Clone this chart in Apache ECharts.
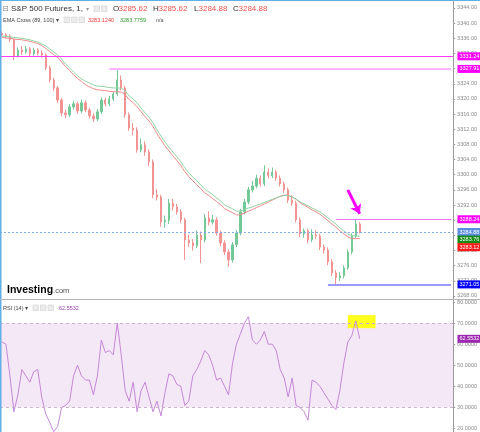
<!DOCTYPE html>
<html>
<head>
<meta charset="utf-8">
<script src="https://cdn.jsdelivr.net/npm/echarts@6/dist/echarts.min.js"></script>
<style>
  html, body { margin: 0; padding: 0; background: #fff; }
  #main { width: 480px; height: 432px; }
</style>
</head>
<body>
<div id="main"></div>
<script>
// S&P 500 Futures 1 min
const opens = [3337.3, 3336.9, 3336.6, 3335.6, 3331.3, 3332.9, 3332.4, 3333.2, 3331.9, 3332.9,
  3332.1, 3331.6, 3328.2, 3325.0, 3322.9, 3319.7, 3316.3, 3315.8, 3317.9, 3318.7,
  3316.8, 3319.0, 3317.1, 3315.5, 3314.7, 3316.6, 3319.7, 3318.7, 3320.0, 3321.3,
  3325.0, 3322.9, 3315.8, 3312.3, 3311.8, 3306.5, 3307.9, 3306.0, 3303.4, 3294.7,
  3294.1, 3287.5, 3288.0, 3292.5, 3291.5, 3290.2, 3288.1, 3282.8, 3282.0, 3281.2,
  3284.1, 3282.8, 3288.6, 3287.5, 3288.1, 3284.6, 3282.0, 3279.6, 3277.5, 3281.5,
  3284.6, 3290.2, 3292.8, 3296.0, 3297.0, 3299.1, 3297.6, 3300.7, 3299.7, 3300.7,
  3299.1, 3297.6, 3296.0, 3293.3, 3292.5, 3288.1, 3284.4, 3285.2, 3282.8, 3284.1,
  3283.8, 3280.9, 3280.1, 3277.0, 3274.1, 3272.8, 3273.3, 3275.4, 3279.6, 3283.8,
  3287.0]
const closes = [3336.9, 3336.6, 3335.6, 3331.3, 3332.9, 3332.4, 3333.2, 3331.9, 3332.9, 3332.1,
  3331.6, 3328.2, 3325.0, 3322.9, 3319.7, 3316.3, 3315.8, 3317.9, 3318.7, 3316.8,
  3319.0, 3317.1, 3315.5, 3314.7, 3316.6, 3319.7, 3318.7, 3320.0, 3321.3, 3325.0,
  3322.9, 3315.8, 3312.3, 3311.8, 3306.5, 3307.9, 3306.0, 3303.4, 3294.7, 3294.1,
  3287.5, 3288.0, 3292.5, 3291.5, 3290.2, 3288.1, 3282.8, 3282.0, 3281.2, 3284.1,
  3282.8, 3288.6, 3287.5, 3288.1, 3284.6, 3282.0, 3279.6, 3277.5, 3281.5, 3284.6,
  3290.2, 3292.8, 3296.0, 3297.0, 3299.1, 3297.6, 3300.7, 3299.7, 3300.7, 3299.1,
  3297.6, 3296.0, 3293.3, 3292.5, 3288.1, 3284.4, 3285.2, 3282.8, 3284.1, 3283.8,
  3280.9, 3280.1, 3277.0, 3274.1, 3272.8, 3273.3, 3275.4, 3279.6, 3283.8, 3287.0,
  3284.88]
const highs = [3337.8, 3337.3, 3337.0, 3335.9, 3333.6, 3333.9, 3334.0, 3333.7, 3333.5, 3333.4,
  3332.8, 3332.0, 3328.8, 3325.6, 3323.4, 3320.3, 3317.2, 3318.6, 3319.5, 3319.3,
  3319.8, 3319.6, 3317.7, 3316.2, 3317.3, 3320.4, 3320.3, 3320.8, 3322.0, 3327.91,
  3326.2, 3323.5, 3316.4, 3313.6, 3312.5, 3309.6, 3308.8, 3306.7, 3304.0, 3296.2,
  3294.7, 3289.2, 3293.6, 3293.7, 3292.3, 3290.9, 3288.7, 3284.2, 3283.0, 3285.3,
  3285.0, 3289.6, 3290.3, 3289.4, 3288.8, 3285.3, 3282.7, 3280.3, 3282.2, 3285.4,
  3291.0, 3293.6, 3296.8, 3298.4, 3300.0, 3299.8, 3302.5, 3301.6, 3301.9, 3301.3,
  3299.8, 3298.2, 3296.6, 3294.6, 3293.1, 3288.7, 3285.8, 3285.8, 3285.6, 3285.4,
  3284.4, 3281.6, 3280.8, 3277.7, 3274.8, 3274.3, 3276.1, 3280.3, 3284.5, 3288.24,
  3287.5]
const lows = [3336.4, 3336.0, 3335.0, 3330.3, 3330.9, 3331.6, 3331.9, 3331.2, 3331.4, 3331.5,
  3330.9, 3327.6, 3324.3, 3322.1, 3318.9, 3315.4, 3314.9, 3315.2, 3317.2, 3316.1,
  3316.3, 3316.5, 3314.8, 3313.9, 3314.2, 3316.0, 3318.0, 3318.1, 3319.4, 3320.8,
  3322.2, 3315.0, 3311.6, 3310.4, 3305.8, 3305.9, 3305.0, 3302.2, 3293.8, 3293.2,
  3286.3, 3286.0, 3287.0, 3290.6, 3289.5, 3287.2, 3277.5, 3280.9, 3280.0, 3280.6,
  3276.7, 3282.1, 3286.6, 3286.9, 3283.9, 3281.1, 3278.8, 3275.7, 3276.8, 3280.9,
  3284.0, 3289.5, 3292.2, 3295.3, 3296.4, 3296.9, 3297.0, 3299.0, 3299.1, 3298.4,
  3296.9, 3295.2, 3292.5, 3291.8, 3287.4, 3283.5, 3283.4, 3281.9, 3282.2, 3283.0,
  3280.1, 3279.2, 3276.1, 3273.3, 3271.05, 3272.0, 3272.6, 3274.9, 3279.0, 3283.2,
  3284.5]
const ema89 = [3336.2, 3336.1, 3336.0, 3335.8, 3335.7, 3335.6, 3335.4, 3335.2, 3334.9, 3334.6,
  3334.1, 3333.3, 3332.5, 3331.7, 3330.9, 3329.8, 3328.5, 3327.5, 3326.4, 3325.4,
  3324.6, 3323.7, 3323.2, 3322.7, 3322.4, 3322.3, 3322.2, 3322.0, 3321.9, 3321.9,
  3321.8, 3321.1, 3319.8, 3319.0, 3317.9, 3316.6, 3315.3, 3314.2, 3312.7, 3310.8,
  3309.2, 3307.6, 3306.3, 3305.0, 3303.7, 3302.4, 3300.8, 3299.5, 3298.4, 3297.4,
  3296.3, 3295.2, 3294.5, 3293.7, 3292.9, 3292.1, 3291.0, 3290.5, 3290.0, 3289.4,
  3289.4, 3289.9, 3290.4, 3290.8, 3291.3, 3291.8, 3292.3, 3292.8, 3293.3, 3293.8,
  3294.3, 3294.6, 3294.6, 3294.1, 3293.5, 3292.6, 3292.0, 3291.4, 3290.7, 3290.2,
  3289.6, 3288.7, 3287.9, 3287.0, 3286.2, 3285.2, 3284.4, 3283.6, 3283.15, 3283.15,
  3283.12]
const ema100 = [3336.6, 3336.5, 3336.4, 3336.2, 3336.1, 3336.0, 3335.8, 3335.6, 3335.3, 3335.0,
  3334.5, 3334.0, 3333.2, 3332.4, 3331.6, 3330.5, 3329.2, 3328.2, 3327.1, 3326.1,
  3325.3, 3324.7, 3324.2, 3323.7, 3323.4, 3323.3, 3323.2, 3323.0, 3322.9, 3322.9,
  3322.8, 3322.1, 3320.8, 3320.0, 3318.9, 3317.6, 3316.3, 3315.2, 3313.7, 3311.8,
  3310.2, 3308.6, 3307.3, 3306.0, 3304.7, 3303.4, 3301.8, 3300.5, 3299.4, 3298.4,
  3297.3, 3296.2, 3295.5, 3294.7, 3293.9, 3293.1, 3292.0, 3291.5, 3291.0, 3290.4,
  3290.4, 3290.8, 3291.2, 3291.5, 3291.9, 3292.3, 3292.7, 3293.1, 3293.5, 3293.9,
  3294.3, 3294.5, 3294.5, 3294.1, 3293.6, 3292.8, 3292.3, 3291.8, 3291.2, 3290.7,
  3290.2, 3289.4, 3288.6, 3287.8, 3287.0, 3286.0, 3285.2, 3284.4, 3283.9, 3283.85,
  3283.78]
const rsi14 = [61, 60, 45, 28, 36, 48, 45, 42, 47, 48,
  35, 27, 23, 18.5, 21, 30, 31, 33, 45, 50,
  45, 43, 43, 36, 45, 62, 56, 57, 55, 70,
  55, 38, 33, 42, 28, 38, 42, 35, 28, 33,
  26, 37, 46, 45, 41, 40, 31, 33, 45, 48,
  52, 57, 55, 50, 43, 44, 40, 36, 51, 60,
  65, 70, 73, 62, 60, 62, 66, 60, 60, 57,
  48, 44, 35, 44, 31, 30, 28, 24, 43, 42,
  40, 37, 34, 31, 29, 38, 51, 61, 64, 71,
  62.5532]

const priceTicks = [3268, 3272, 3276, 3280, 3284, 3288, 3292, 3296, 3300, 3304,
  3308, 3312, 3316, 3320, 3324, 3328, 3332, 3336, 3340, 3344]
const rsiTicks = [20, 30, 40, 50, 60, 70, 80]

// horizontal levels drawn on the chart: [start slot, value]
const levelTop = 3331.24
const levelPeak = [27, 3327.91]
const levelHigh = [84, 3288.24]
const levelLast = 3284.88
const levelLow = [82, 3271.05]
const arrowFrom = [87, 3296.0]
const arrowTo = [90, 3289.7]
const rsiBand = [30, 70]
const highlightFrom = [87, 73.8]
const highlightTo = [94, 67.6]

// tags on the price scale
const priceTagValues = [3331.24, 3327.91, 3288.24, 3284.88, 3283.76, 3283.12, 3271.05]
const priceTagColors = ['#ff00ff', '#ff00ff', '#ff00ff', '#5b8ee0', '#138a13', '#ff1a1a', '#0000ff']
const rsiTagValue = 62.5532

const slotCount = 114
const categories = Array.from({ length: slotCount }, (_, i) => String(i))
const lastSlot = slotCount - 1

const FONT = 'Liberation Sans, Arial, sans-serif'
const chart = echarts.init(document.getElementById('main'))

const option = {
  animation: false,
  backgroundColor: '#fff',
  grid: [
    { left: 0, right: 23, top: 0, height: 299 },
    { left: 0, right: 23, top: 300, bottom: 0 },
  ],
  xAxis: [
    { gridIndex: 0, type: 'category', data: categories, show: false },
    { gridIndex: 1, type: 'category', data: categories, show: false },
  ],
  yAxis: [
    {
      gridIndex: 0,
      position: 'right',
      min: 3267.2,
      max: 3346.1,
      splitLine: { show: false },
      axisLine: { show: true, lineStyle: { color: '#9a9a9a' } },
      axisTick: { show: true, length: 2, customValues: priceTicks, lineStyle: { color: '#9a9a9a' } },
      axisLabel: {
        customValues: priceTicks,
        formatter: v => v.toFixed(2),
        color: '#8a8a8a',
        fontSize: 5.5,
        fontFamily: FONT,
        margin: 4,
      },
    },
    {
      gridIndex: 1,
      position: 'right',
      min: 18.4,
      max: 80.95,
      splitLine: { show: false },
      axisLine: { show: true, lineStyle: { color: '#9a9a9a' } },
      axisTick: { show: true, length: 2, customValues: rsiTicks, lineStyle: { color: '#9a9a9a' } },
      axisLabel: {
        customValues: rsiTicks,
        formatter: v => v.toFixed(4),
        color: '#8a8a8a',
        fontSize: 5.5,
        fontFamily: FONT,
        margin: 4,
      },
    },
  ],
  series: [
    {
      type: 'candlestick',
      xAxisIndex: 0,
      yAxisIndex: 0,
      barWidth: 1.8,
      data: closes.map((c, i) => [opens[i], c, lows[i], highs[i]]),
      itemStyle: {
        color: '#74c898',
        color0: '#f39494',
        borderColor: '#74c898',
        borderColor0: '#f39494',
        borderWidth: 1,
      },
      markLine: {
        silent: true,
        symbol: 'none',
        label: { show: false },
        data: [
          { yAxis: levelTop, lineStyle: { color: '#ff3cff', width: 1, type: 'solid' } },
          [
            { coord: levelPeak, lineStyle: { color: '#ffb5ff', width: 2, type: 'solid' } },
            { coord: [lastSlot, levelPeak[1]] },
          ],
          [
            { coord: levelHigh, lineStyle: { color: '#ee6fee', width: 1, type: 'solid' } },
            { coord: [lastSlot, levelHigh[1]] },
          ],
          { yAxis: levelLast, lineStyle: { color: '#86a9e8', width: 1, type: [2, 2] } },
          [
            { coord: levelLow, lineStyle: { color: '#7a7aff', width: 1.5, type: 'solid' } },
            { coord: [lastSlot, levelLow[1]] },
          ],
          [
            { coord: arrowFrom, symbol: 'none', lineStyle: { color: '#ff00ff', width: 3, type: 'solid' } },
            { coord: arrowTo, symbol: 'arrow', symbolSize: 9 },
          ],
        ],
      },
    },
    {
      name: 'EMA 89',
      type: 'line',
      xAxisIndex: 0,
      yAxisIndex: 0,
      data: ema89,
      showSymbol: false,
      lineStyle: { color: '#f08a8a', width: 1 },
    },
    {
      name: 'EMA 100',
      type: 'line',
      xAxisIndex: 0,
      yAxisIndex: 0,
      data: ema100,
      showSymbol: false,
      lineStyle: { color: '#93d3a3', width: 1 },
    },
    {
      name: 'RSI',
      type: 'line',
      xAxisIndex: 1,
      yAxisIndex: 1,
      data: rsi14,
      showSymbol: false,
      lineStyle: { color: '#c488d6', width: 1 },
      markArea: {
        silent: true,
        data: [
          [{ yAxis: rsiBand[0], itemStyle: { color: 'rgba(156,39,176,0.11)' } }, { yAxis: rsiBand[1] }],
          [{ coord: highlightFrom, itemStyle: { color: '#ffff1e' } }, { coord: highlightTo }],
        ],
      },
      markLine: {
        silent: true,
        symbol: 'none',
        label: { show: false },
        lineStyle: { color: '#c9b3cd', width: 1, type: [3, 3] },
        data: [{ yAxis: rsiBand[1] }, { yAxis: rsiBand[0] }],
      },
    },
  ],
}

chart.setOption(option)

// ---- overlay: headers, logo, scale tags ----
const W = chart.getWidth()
const H = chart.getHeight()
const axisX = W - 23

function txt(x, y, text, fill, size, extra) {
  return Object.assign({
    type: 'text', x, y, z: 20,
    style: { text, fill, font: `${size}px ${FONT}`, verticalAlign: 'middle' },
  }, extra || {})
}
function icon(x, y) {
  return { type: 'rect', z: 20, shape: { x, y: y - 3, width: 5.5, height: 5.5 }, style: { fill: '#ececec', stroke: '#c9c9c9', lineWidth: 0.5 } }
}
function tag(y, value, color, digits) {
  return [
    { type: 'rect', z: 30, shape: { x: axisX + 0.5, y: y - 4, width: 26, height: 8 }, style: { fill: color } },
    txt(axisX + 2.5, y, value.toFixed(digits), '#fff', 5.5, { z: 31 }),
  ]
}

const graphics = [
  // frame
  { type: 'rect', z: 25, shape: { x: 0, y: 0, width: W, height: 1 }, style: { fill: '#62aee6' } },
  { type: 'rect', z: 25, shape: { x: 0, y: 0, width: 1.5, height: H }, style: { fill: '#62aee6' } },
  { type: 'rect', z: 25, shape: { x: 0, y: 299, width: W, height: 1 }, style: { fill: '#b5b5b5' } },
  // header row 1
  txt(2, 9, '⊟', '#8a8a8a', 8, { style: { text: '⊟', fill: '#8a8a8a', font: '8px DejaVu Sans', verticalAlign: 'middle' } }),
  txt(11, 9, 'S&P 500 Futures, 1,', '#333', 8),
  txt(86, 9, '▾', '#999', 6),
  icon(94, 9), icon(101.5, 9),
  txt(113, 9, 'O', '#333', 8), txt(118.5, 9, '3285.62', '#ef5350', 8),
  txt(153, 9, 'H', '#333', 8), txt(158.5, 9, '3285.62', '#ef5350', 8),
  txt(194, 9, 'L', '#333', 8), txt(198.5, 9, '3284.88', '#ef5350', 8),
  txt(233, 9, 'C', '#333', 8), txt(238.5, 9, '3284.88', '#ef5350', 8),
  // header row 2
  txt(3, 20, 'EMA Cross (89, 100) ▾', '#444', 5.5),
  icon(64, 20), icon(71.5, 20), icon(79, 20),
  txt(88, 20, '3283.1240', '#f23b3b', 5.5),
  txt(120, 20, '3283.7759', '#2e9b2e', 5.5),
  txt(156, 20, 'n/a', '#555', 5.5),
  // logo
  {
    type: 'text', x: 7, y: 290, z: 20,
    style: {
      text: '{a|Investing}{b|.com}',
      verticalAlign: 'middle',
      rich: {
        a: { font: `bold 10.5px ${FONT}`, fill: '#000' },
        b: { font: `7.5px ${FONT}`, fill: '#555', padding: [2, 0, 0, 0] },
      },
    },
  },
  // RSI header
  txt(3, 308, 'RSI (14) ▾', '#444', 5.5),
  icon(33, 308), icon(40.5, 308), icon(48, 308),
  txt(59, 308, rsiTagValue.toFixed(4), '#a040b0', 5.5),
]

// price scale tags, pushed apart when they would overlap
const placed = priceTagValues
  .map((v, i) => ({ v, color: priceTagColors[i], y: chart.convertToPixel({ yAxisIndex: 0 }, v) }))
  .sort((a, b) => a.y - b.y)
let prevY = -Infinity
placed.forEach(t => {
  t.y = Math.max(t.y, prevY + 7.6)
  prevY = t.y
  graphics.push(...tag(t.y, t.v, t.color, 2))
})
graphics.push(...tag(chart.convertToPixel({ yAxisIndex: 1 }, rsiTagValue), rsiTagValue, '#9c27b0', 4))

chart.setOption({ graphic: graphics })
</script>
</body>
</html>
